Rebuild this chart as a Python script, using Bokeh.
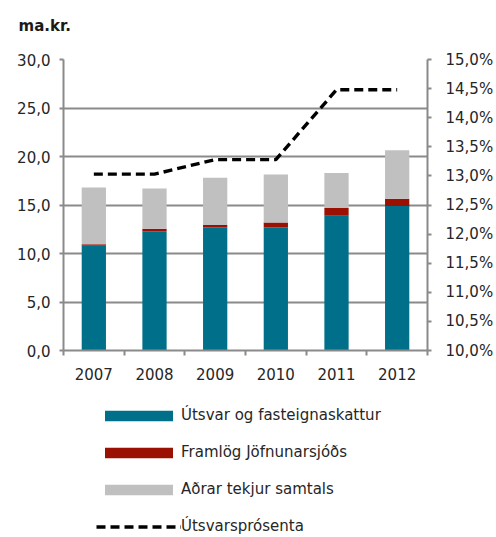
from bokeh.plotting import figure
from bokeh.layouts import column
from bokeh.models import (ColumnDataSource, LinearAxis, Range1d, SingleIntervalTicker,
                          FixedTicker, CustomJSTickFormatter, Legend, LegendItem, Title)
from bokeh.embed import file_html
from bokeh.resources import INLINE

years = ["2007", "2008", "2009", "2010", "2011", "2012"]
utsvar = [10.8, 12.3, 12.7, 12.7, 13.9, 14.9]
framlog = [0.15, 0.25, 0.25, 0.5, 0.8, 0.75]
adrar = [5.85, 4.15, 4.85, 4.95, 3.6, 5.0]
utsvarsprosenta = [13.03, 13.03, 13.28, 13.28, 14.48, 14.48]

unit_title = "ma.kr."
names = ["Útsvar og fasteignaskattur", "Framlög Jöfnunarsjóðs", "Aðrar tekjur samtals"]
line_name = "Útsvarsprósenta"
colors = ["#00708A", "#9A1104", "#C0C0C0"]

FONT = "DejaVu Sans"
GRID = "#8A8A8A"
TXT = "#262626"
FS = "15px"
W = 496

xs = list(range(len(years)))
src = ColumnDataSource(dict(x=xs, u=utsvar, f=framlog, a=adrar, p=utsvarsprosenta))

p = figure(width=W, height=385, output_backend="svg", toolbar_location=None,
           x_range=Range1d(-0.5, len(years) - 0.5), y_range=Range1d(0, 30),
           min_border_left=63, min_border_right=69, min_border_top=59, min_border_bottom=35)
p.extra_y_ranges = {"pct": Range1d(10, 15)}
p.outline_line_color = None

# spacer (closest to the frame) then the unit title above it
p.add_layout(Title(text=" ", text_font_size="1px", standoff=22), "above")
p.add_layout(Title(text=unit_title, text_font=FONT, text_font_size="15px",
                   text_font_style="bold", text_color="#1a1a1a", align="left",
                   offset=-45, standoff=0), "above")

bars = p.vbar_stack(["u", "f", "a"], x="x", width=0.4, source=src,
                    color=colors, line_color=None)
line = p.line("x", "p", source=src, y_range_name="pct", line_color="black",
              line_width=3.4, line_dash="9 5")

# x axis
xa = p.xaxis[0]
xa.ticker = FixedTicker(ticks=xs, minor_ticks=[i - 0.5 for i in range(len(years) + 1)])
xa.major_label_overrides = {i: y for i, y in enumerate(years)}
xa.major_tick_line_color = None
xa.major_tick_out = 5
xa.major_tick_in = 0
xa.minor_tick_out = 5
xa.minor_tick_in = 0
xa.minor_tick_line_color = GRID
xa.minor_tick_line_width = 2
xa.axis_line_color = GRID
xa.axis_line_width = 2
xa.major_label_standoff = 12
xa.major_label_text_font = FONT
xa.major_label_text_font_size = FS
xa.major_label_text_color = TXT

# left axis
ya = p.yaxis[0]
ya.ticker = SingleIntervalTicker(interval=5, num_minor_ticks=0)
ya.formatter = CustomJSTickFormatter(code="return tick.toFixed(1).replace('.', ',');")
ya.axis_line_color = GRID
ya.axis_line_width = 2
ya.major_tick_line_color = GRID
ya.major_tick_line_width = 2
ya.major_tick_out = 4
ya.major_tick_in = 0
ya.minor_tick_line_color = None
ya.major_label_standoff = 9
ya.major_label_text_font = FONT
ya.major_label_text_font_size = FS
ya.major_label_text_color = TXT

# right axis
ra = LinearAxis(y_range_name="pct",
                ticker=SingleIntervalTicker(interval=0.5, num_minor_ticks=0),
                formatter=CustomJSTickFormatter(code="return tick.toFixed(1).replace('.', ',') + '%';"))
ra.axis_line_color = GRID
ra.axis_line_width = 2
ra.major_tick_line_color = GRID
ra.major_tick_line_width = 2
ra.major_tick_out = 4
ra.major_tick_in = 0
ra.minor_tick_line_color = None
ra.major_label_standoff = 14
ra.major_label_text_font = FONT
ra.major_label_text_font_size = FS
ra.major_label_text_color = TXT
p.add_layout(ra, "right")

p.xgrid.grid_line_color = None
p.ygrid.grid_line_color = GRID
p.ygrid.grid_line_width = 2

# legend figure (its frame is aligned with the chart frame by the column layout;
# the y range is set so the proxy glyphs stay out of view)
lg = figure(width=W, height=152, output_backend="svg", toolbar_location=None,
            x_range=Range1d(-0.5, len(years) - 0.5), y_range=Range1d(1000, 1001),
            min_border_left=63, min_border_right=69, min_border_top=0, min_border_bottom=0)
lg.axis.visible = False
lg.grid.grid_line_color = None
lg.outline_line_color = None
proxies = lg.vbar_stack(["u", "f", "a"], x="x", width=0.4, source=src,
                        color=colors, line_color=None)
pline = lg.line("x", "p", source=src, line_color="black", line_width=3.4, line_dash="9 5")

items = [LegendItem(label=n, renderers=[r]) for n, r in zip(names, proxies)]
items.append(LegendItem(label=line_name, renderers=[pline]))
leg = Legend(items=items, location=(33, 1), orientation="vertical",
             padding=0, margin=0, spacing=17, glyph_width=85, glyph_height=13,
             label_height=20, label_standoff=0,
             label_text_font=FONT, label_text_font_size=FS, label_text_color=TXT,
             border_line_color=None, background_fill_alpha=0)
lg.add_layout(leg, "center")

layout = column(p, lg, spacing=0)
open("out.html", "w").write(file_html(layout, INLINE))
